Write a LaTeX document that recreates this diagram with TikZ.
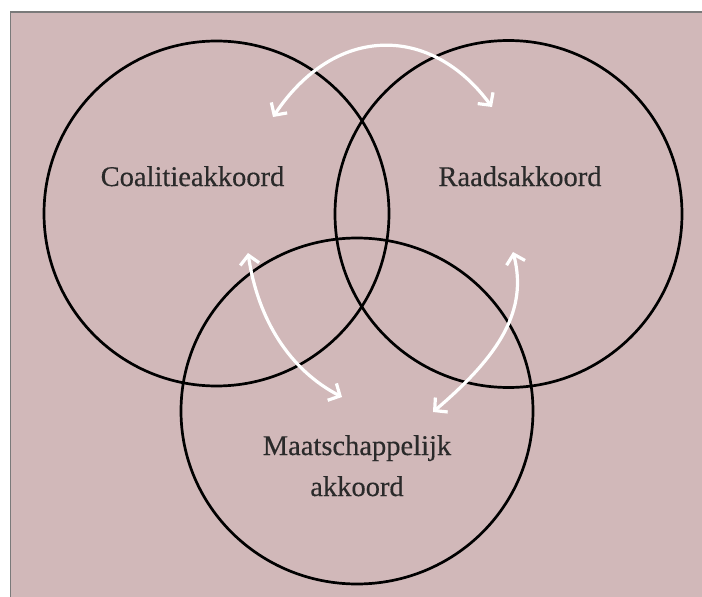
\documentclass[tikz,border=0pt]{standalone}
\usepackage{fontspec}
\setmainfont{Liberation Serif}
\newfontfamily\lblfont[FakeBold=0.35]{Liberation Serif}
\usetikzlibrary{arrows.meta}
\definecolor{bgpink}{HTML}{D1B8B9}
\definecolor{framegray}{HTML}{7A7A7A}
\definecolor{txtdark}{HTML}{2A2A2A}
\tikzset{
  ring/.style={draw=black, line width=2.7pt},
  warrow/.style={draw=white, line width=3.2pt, line cap=round,
    {Straight Barb[length=9pt,width=19pt,line width=3.2pt]}-{Straight Barb[length=9pt,width=19pt,line width=3.2pt]}},
  lbl/.style={text=txtdark, font=\lblfont\fontsize{28.5}{36}\selectfont, anchor=base, inner sep=0pt, align=center}
}
\begin{document}
\begin{tikzpicture}[x=1pt,y=-1pt]
\useasboundingbox (0,0) rectangle (702,597);
\fill[white] (0,0) rectangle (702,597);
\fill[bgpink] (10.5,12) rectangle (702,597);
\draw[framegray, line width=1.2pt] (10.5,597) -- (10.5,12) -- (702,12);
% circles
\draw[ring] (216.5,213.5) circle[radius=172.5];
\draw[ring] (508.5,214) circle[radius=173.5];
\draw[ring] (357,411) ellipse[x radius=176, y radius=173];
% labels
\node[lbl] (coal) at (192.5,186) {Coalitieakkoord};
\node[lbl] (raad) at (520,186) {Raadsakkoord};
\node[lbl] (maat) at (357,455) {Maatschappelijk};
\node[lbl] (akk) at (357,496) {akkoord};
% arrow end points
\coordinate (t1) at (273,117);
\coordinate (t2) at (492,107);
\coordinate (l1) at (248,253);
\coordinate (l2) at (342,397);
\coordinate (r1) at (513,252);
\coordinate (r2) at (433,412);
\draw[warrow] (t1) .. controls (335,24) and (431,24) .. (t2);
\draw[warrow] (l1) .. controls (258,320) and (290,370) .. (l2);
\draw[warrow] (r1) .. controls (528,310) and (500,355) .. (r2);
\end{tikzpicture}
\end{document}
